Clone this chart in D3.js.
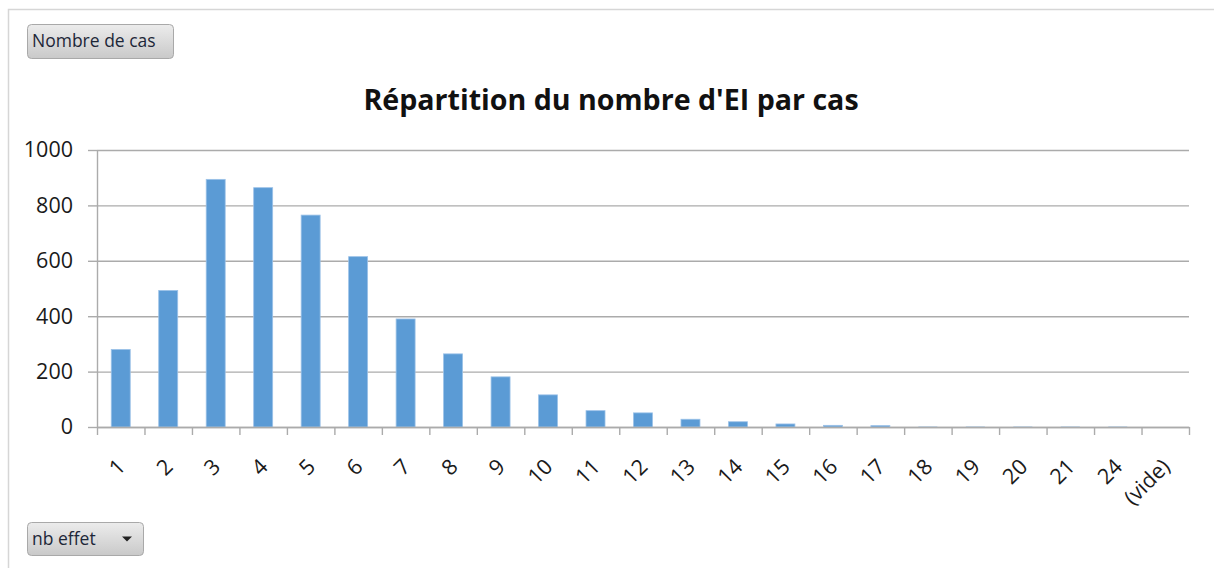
<!DOCTYPE html>
<html>
<head>
<meta charset="utf-8">
<script src="https://cdn.jsdelivr.net/npm/d3@7"></script>
<style>
  body { margin: 0; background: #fff; }
  svg { display: block; font-family: "Open Sans", sans-serif; }
</style>
</head>
<body>
<svg width="1214" height="568"></svg>
<script>
var categories = ["1", "2", "3", "4", "5", "6", "7", "8", "9", "10", "11", "12",
	"13", "14", "15", "16", "17", "18", "19", "20", "21", "24", "(vide)"];
var values = [280, 493, 894, 864, 765, 615, 390, 264, 181, 116, 59, 51,
	28, 19, 11, 6, 5, 1, 1, 1, 1, 1, 0];
var yTicks = [0, 200, 400, 600, 800, 1000];

var svg = d3.select("svg");

// cadre du graphique
svg.append("path")
	.attr("d", "M8.5,568 V9.5 H1214")
	.attr("fill", "none")
	.attr("stroke", "#d6d6d6")
	.attr("stroke-width", 1.5);

var plotLeft = 97, plotRight = 1189, plotTop = 150, plotBottom = 427;

var x = d3.scaleBand()
	.domain(categories)
	.range([plotLeft, plotRight])
	.paddingInner(0.6)
	.paddingOuter(0.3);

var xTick = d3.scaleLinear()
	.domain([0, categories.length])
	.range([plotLeft, plotRight]);

var y = d3.scaleLinear()
	.domain([0, 1000])
	.range([plotBottom, plotTop]);

// quadrillage
svg.append("g")
	.attr("class", "grid")
	.attr("transform", "translate(" + plotLeft + ",0)")
	.call(d3.axisLeft(y).tickValues(yTicks).tickSize(-(plotRight - plotLeft)).tickFormat(""))
	.call(function (g) { g.select(".domain").remove(); })
	.selectAll("line")
	.attr("stroke", "#ababab")
	.attr("stroke-width", 1.4);

// axe y
var yAxis = svg.append("g")
	.attr("transform", "translate(" + plotLeft + ",0)")
	.call(d3.axisLeft(y).tickValues(yTicks).tickFormat(d3.format("d"))
		.tickSize(9).tickSizeOuter(0).tickPadding(15));
yAxis.select(".domain").attr("stroke", "#ababab").attr("stroke-width", 1.4);
yAxis.selectAll("line").attr("stroke", "#ababab").attr("stroke-width", 1.4);
yAxis.selectAll("text")
	.attr("font-family", "Open Sans")
	.attr("font-size", "21.5px")
	.attr("fill", "#1a1a1a");

// barres
svg.selectAll(".bar")
	.data(values)
	.enter()
	.append("rect")
	.attr("class", "bar")
	.attr("x", function (d, i) { return x(categories[i]); })
	.attr("y", function (d) { return y(d); })
	.attr("width", x.bandwidth())
	.attr("height", function (d) { return plotBottom - y(d); })
	.attr("fill", "#5b9bd5")
	.attr("stroke", function (d) { return d >= 3 ? "#9cc2e8" : "none"; })
	.attr("stroke-width", 0.8);

// axe x
var xAxis = svg.append("g")
	.attr("transform", "translate(0," + plotBottom + ")")
	.call(d3.axisBottom(xTick).tickValues(d3.range(categories.length + 1))
		.tickSize(8).tickSizeOuter(0).tickFormat(""));
xAxis.select(".domain").attr("stroke", "#ababab").attr("stroke-width", 1.4);
xAxis.selectAll("line").attr("stroke", "#ababab").attr("stroke-width", 1.4);

svg.selectAll(".xlabel")
	.data(categories)
	.enter()
	.append("text")
	.attr("class", "xlabel")
	.attr("text-anchor", "end")
	.attr("font-size", "21.5px")
	.attr("fill", "#1a1a1a")
	.attr("transform", function (d) {
		return "translate(" + (x(d) + x.bandwidth() / 2 + 6) + ",468) rotate(-45)";
	})
	.text(function (d) { return d; });

// titre
svg.append("text")
	.attr("x", 611)
	.attr("y", 110)
	.attr("text-anchor", "middle")
	.attr("font-size", "28.6px")
	.attr("font-weight", "bold")
	.attr("fill", "#111")
	.text("Répartition du nombre d'EI par cas");

// boutons de champ du tableau croisé
var defs = svg.append("defs");
var grad = defs.append("linearGradient")
	.attr("id", "btn")
	.attr("x1", 0).attr("y1", 0).attr("x2", 0).attr("y2", 1);
grad.append("stop").attr("offset", "0%").attr("stop-color", "#ececec");
grad.append("stop").attr("offset", "100%").attr("stop-color", "#c9c9c9");

function button(bx, by, w, h, label, arrow) {
	var g = svg.append("g");
	g.append("rect")
		.attr("x", bx + 0.5).attr("y", by + 0.5)
		.attr("width", w).attr("height", h)
		.attr("rx", 4)
		.attr("fill", "url(#btn)")
		.attr("stroke", "#a9a9a9");
	g.append("text")
		.attr("x", bx + 5)
		.attr("y", by + h / 2 + 6)
		.attr("font-size", "17.5px")
		.attr("fill", "#1d2738")
		.text(label);
	if (arrow) {
		var ax = bx + w - 16, ay = by + h / 2 - 2;
		g.append("path")
			.attr("d", "M" + (ax - 5) + "," + ay + " L" + (ax + 5) + "," + ay + " L" + ax + "," + (ay + 5) + "Z")
			.attr("fill", "#222");
	}
}
button(27, 24, 146, 34, "Nombre de cas", false);
button(27, 522, 116, 33, "nb effet", true);
</script>
</body>
</html>
